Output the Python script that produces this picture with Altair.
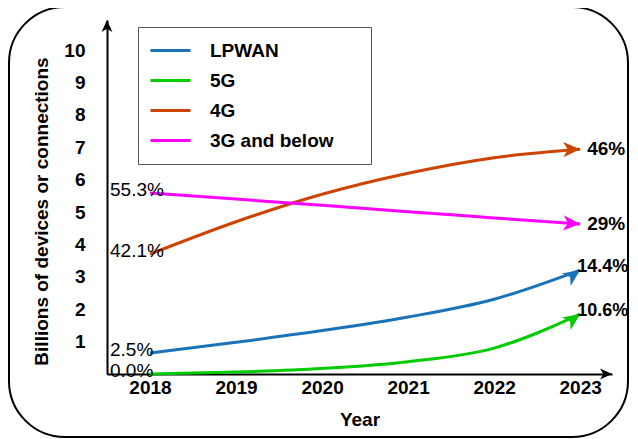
import altair as alt
import pandas as pd

# ---------------- data ----------------
years = [2018, 2019, 2020, 2021, 2022, 2023]
series = ["LPWAN", "5G", "4G", "3G and below"]
lpwan = [0.65, 0.98, 1.34, 1.76, 2.31, 3.21]
g5 = [0.0, 0.06, 0.17, 0.38, 0.80, 1.85]
g4 = [3.70, 4.70, 5.55, 6.20, 6.68, 6.94]
g3 = [5.59, 5.40, 5.21, 5.01, 4.82, 4.63]
start_labels = ["2.5%", "0.0%", "42.1%", "55.3%"]
end_labels = ["14.4%", "10.6%", "46%", "29%"]
y_ticks = list(range(1, 11))
x_ticks = years

# ---------------- styles ----------------
colors = ["#1a72b8", "#00cc00", "#cc4400", "#ff00ff"]
arrow_angle = {"LPWAN": 325, "5G": 325, "4G": 359, "3G and below": 4}
FONT = "Liberation Sans"
ARROW = "M0,0 L-1,-0.45 L-0.72,0 L-1,0.45 Z"
PAD = "\u00a0" * 5 + "\u200b"   # invisible padding to widen the legend box

values = [lpwan, g5, g4, g3]
rows = []
for s, vals in zip(series, values):
    for yr, v in zip(years, vals):
        rows.append({"series": s, "year": yr, "value": v})
df = pd.DataFrame(rows)

starts = pd.DataFrame({
    "series": series,
    "year": [years[0]] * 4,
    "value": [v[0] for v in values],
    "label": start_labels,
})
ends = pd.DataFrame({
    "series": series,
    "year": [years[-1]] * 4,
    "value": [v[-1] for v in values],
    "label": end_labels,
    "angle": [arrow_angle[s] for s in series],
})

W, H = 505, 354
xscale = alt.Scale(domain=[2017.5, 2023.37], nice=False, zero=False)
yscale = alt.Scale(domain=[0, 10.93], nice=False, zero=False)
cscale = alt.Scale(domain=series, range=colors)

x_axis = alt.Axis(
    values=x_ticks, format="d", ticks=False, grid=False, labelOverlap=False,
    domainColor="black", domainWidth=2,
    labelFont=FONT, labelFontSize=19, labelFontWeight="bold", labelColor="black",
    labelPadding=4,
    title="Year", titleFont=FONT, titleFontSize=19, titleFontWeight="bold",
    titleColor="black", titleY=45, titleBaseline="middle",
)
y_axis = alt.Axis(
    values=y_ticks, ticks=False, grid=False, labelOverlap=False,
    domainColor="black", domainWidth=2,
    labelFont=FONT, labelFontSize=19, labelFontWeight="bold", labelColor="black",
    labelPadding=22,
    title="Billions of devices or connections", titleFont=FONT, titleFontSize=19,
    titleFontWeight="bold", titleColor="black",
    titleX=-66, titleY=191, titleAngle=270, titleAlign="center", titleBaseline="middle",
)

X = alt.X("year:Q", scale=xscale, axis=x_axis)
Y = alt.Y("value:Q", scale=yscale, axis=y_axis)

legend = alt.Legend(
    orient="none", legendX=31, legendY=7, padding=11, clipHeight=25, rowPadding=5,
    symbolType="stroke", symbolSize=1600, symbolStrokeWidth=3, labelOffset=18,
    labelFont=FONT, labelFontSize=19, labelFontWeight="bold", labelColor="black",
    labelLimit=400, strokeColor="#555555", title=None,
    labelExpr="datum.label + '" + PAD + "'",
)

lines = alt.Chart(df).mark_line(strokeWidth=3, interpolate="monotone").encode(
    x=X, y=Y,
    color=alt.Color("series:N", scale=cscale, legend=legend, sort=series),
)

arrows = alt.Chart(ends).mark_point(
    shape=ARROW, filled=True, size=1156, opacity=1, strokeWidth=0
).encode(
    x=X, y=Y,
    color=alt.Color("series:N", scale=cscale, legend=None),
    angle=alt.Angle("angle:Q", scale=None),
)

start_text = alt.Chart(starts).mark_text(
    align="left", baseline="middle", dx=-40, dy=-3,
    font=FONT, fontSize=19, color="black",
).encode(x=X, y=Y, text="label:N")

end_text_a = alt.Chart(ends).transform_filter(
    alt.FieldOneOfPredicate(field="series", oneOf=["4G", "3G and below"])
).mark_text(
    align="left", baseline="middle", dx=7, dy=0,
    font=FONT, fontSize=19, fontWeight="bold", color="black",
).encode(x=X, y=Y, text="label:N")

end_text_b = alt.Chart(ends).transform_filter(
    alt.FieldOneOfPredicate(field="series", oneOf=["LPWAN", "5G"])
).mark_text(
    align="left", baseline="middle", dx=-3, dy=-3,
    font=FONT, fontSize=18, fontWeight="bold", color="black",
).encode(x=X, y=Y, text="label:N")

one = pd.DataFrame({"k": [0]})

frame = alt.Chart(one).mark_rect(
    fill="transparent", stroke="black", strokeWidth=2, cornerRadius=56
).encode(
    x=alt.value(-98), x2=alt.value(521), y=alt.value(-13), y2=alt.value(417)
)

y_arrow = alt.Chart(one).mark_point(
    shape=ARROW, filled=True, size=576, opacity=1, color="black", strokeWidth=0
).encode(x=alt.value(0), y=alt.value(0), angle=alt.value(270))

x_arrow = alt.Chart(one).mark_point(
    shape=ARROW, filled=True, size=576, opacity=1, color="black", strokeWidth=0
).encode(x=alt.value(W), y=alt.value(H), angle=alt.value(0))

chart = alt.layer(
    frame, lines, arrows, start_text, end_text_a, end_text_b, y_arrow, x_arrow
).properties(
    width=W, height=H,
    padding={"left": 99, "top": 12, "right": 18, "bottom": 65},
    autosize=alt.AutoSizeParams(type="none"),
    background="white",
).configure_view(stroke=None).configure_axis(labelOverlap=False)

chart.save("out.html", embed_options={"renderer": "svg", "actions": False})
